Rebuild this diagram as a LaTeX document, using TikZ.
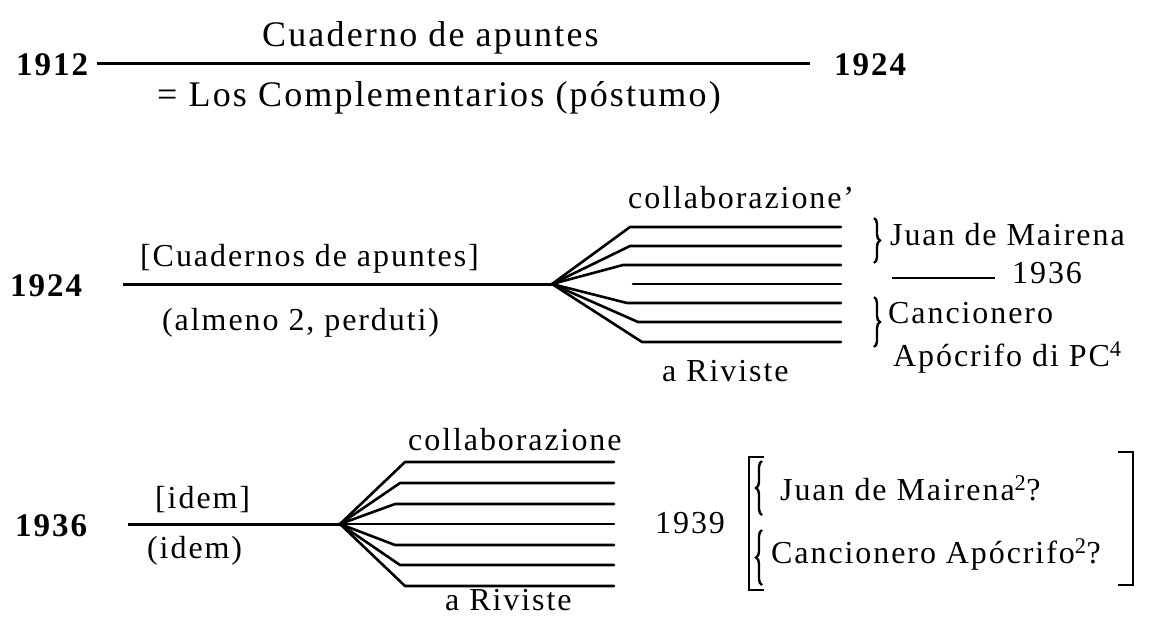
\documentclass[tikz,border=0pt]{standalone}
\usepackage{fontspec}
\setmainfont{Liberation Serif}[LetterSpace=6]
\usetikzlibrary{decorations.pathreplacing}
\newcommand\txtfont{\fontsize{32}{36}\selectfont}
\newcommand\bigtxtfont{\fontsize{36}{40}\selectfont}
\newcommand\yrfont{\fontsize{33}{38}\selectfont\bfseries}
\begin{document}
\begin{tikzpicture}[x=1pt,y=-1pt,
  txt/.style={inner sep=0pt, font=\txtfont, anchor=base west},
  bigtxt/.style={inner sep=0pt, font=\bigtxtfont, anchor=base west},
  yr/.style={inner sep=0pt, font=\yrfont, anchor=base west},
  rule/.style={line width=3pt},
  fanline/.style={line width=2.6pt, line join=round, line cap=round},
  brk/.style={line width=2.6pt, line join=miter},
  brc/.style={line width=2.4pt, decorate, decoration={brace, amplitude=6pt}}]
\useasboundingbox (0,0) rectangle (1154,622);

% ---------- row 1 ----------
\node[yr] (y1912) at (16,75) {1912};
\node[yr] (y1924a) at (834,75) {1924};
\node[bigtxt] (cuad) at (262,46) {Cuaderno de apuntes};
\node[bigtxt] (comp) at (157,106) {= Los Complementarios (póstumo)};
\coordinate (r1s) at (97,63);
\coordinate (r1e) at (810,63);
\draw[rule] (r1s) -- (r1e);

% ---------- row 2 ----------
\node[yr] (y1924b) at (10,296) {1924};
\node[txt] (cuads) at (140,266) {[Cuadernos de apuntes]};
\node[txt] (alm) at (162,330) {(almeno 2, perduti)};
\coordinate (r2s) at (123,284);
\coordinate (o2) at (552,284);
\draw[rule] (r2s) -- (o2);
\foreach \i/\y/\xs in {1/227/630, 2/246/630, 3/265/623, 5/303/627, 6/322/638, 7/342/642}{
  \coordinate (a\i) at (\xs,\y);
  \coordinate (b\i) at (841,\y);
  \draw[fanline] (o2) -- (a\i) -- (b\i);
}
\coordinate (a4) at (633,284);
\coordinate (b4) at (841,284);
\draw[fanline] (a4) -- (b4);
\node[txt] (coll2) at (628,208) {collaborazione’};
\node[txt] (riv2) at (662,381) {a Riviste};

\draw[brc] (874,218) -- (874,263);
\draw[brc] (874,297) -- (874,347);
\node[txt] (jm) at (890,245) {Juan de Mairena};
\coordinate (jl1) at (892,278);
\coordinate (jl2) at (995,278);
\draw[line width=2.4pt] (jl1) -- (jl2);
\node[txt] (y1936b) at (1012,283) {1936};
\node[txt] (canc) at (888,323) {Cancionero};
\node[txt] (apoc) at (893,366) {Apócrifo di PC\textsuperscript{4}};

% ---------- row 3 ----------
\node[yr] (y1936a) at (15,536) {1936};
\node[txt] (idem1) at (155,508) {[idem]};
\node[txt] (idem2) at (147,558) {(idem)};
\coordinate (r3s) at (128,524);
\coordinate (o3) at (340,524);
\draw[rule] (r3s) -- (o3);
\foreach \i/\y/\xs in {1/462/405, 2/483/400, 3/504/395, 5/545/395, 6/565/400, 7/586/405}{
  \coordinate (c\i) at (\xs,\y);
  \coordinate (d\i) at (614,\y);
  \draw[fanline] (o3) -- (c\i) -- (d\i);
}
\coordinate (d4) at (614,524);
\draw[fanline] (o3) -- (d4);
\node[txt] (coll3) at (408,450) {collaborazione};
\node[txt] (riv3) at (445,610) {a Riviste};

\node[txt] (y1939) at (655,533) {1939};
\draw[brk] (764,457) -- (749,457) -- (749,590) -- (764,590);
\draw[brc] (762,515) -- (762,461);
\draw[brc] (762,585) -- (762,530);
\node[txt] (jm2) at (780,500) {Juan de Mairena\textsuperscript{2}?};
\node[txt] (ca2) at (771,563) {Cancionero Apócrifo\textsuperscript{2}?};
\draw[brk] (1118,452) -- (1133,452) -- (1133,585) -- (1118,585);
\end{tikzpicture}
\end{document}
